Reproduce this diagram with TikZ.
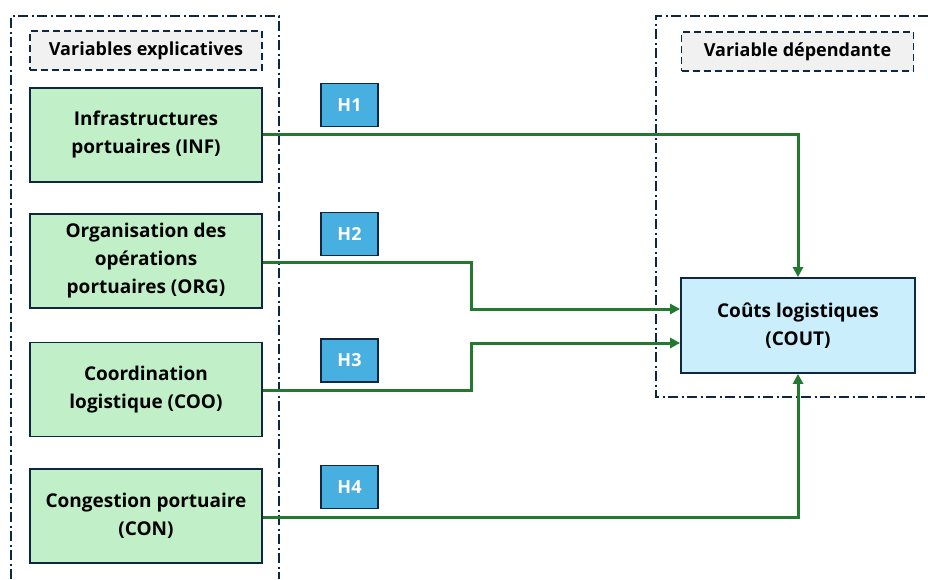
\documentclass[tikz,border=0pt]{standalone}
\usepackage{fontspec}
\setmainfont{Open Sans}
\usetikzlibrary{arrows.meta}
\definecolor{navy}{HTML}{0E2841}
\definecolor{boxgreen}{HTML}{C1F0C8}
\definecolor{boxblue}{HTML}{CAEEFB}
\definecolor{hblue}{HTML}{47B0E0}
\definecolor{linegreen}{HTML}{217A2E}
\definecolor{hdrgray}{HTML}{F1F1F1}
\begin{document}
\begin{tikzpicture}[x=1pt,y=-1pt,
  frame/.style={draw=navy,line width=2pt,dash pattern=on 10pt off 3.5pt on 2pt off 3.5pt},
  header/.style={draw=navy,line width=1.8pt,dash pattern=on 7pt off 4pt,fill=hdrgray,minimum width=232pt,minimum height=39pt,font=\bfseries\fontsize{18}{20}\selectfont,inner sep=0pt},
  varbox/.style={draw=navy,line width=1.8pt,fill=boxgreen,minimum width=232pt,minimum height=94pt,align=center,font=\bfseries\fontsize{19}{28}\selectfont,inner sep=0pt},
  depbox/.style={draw=navy,line width=1.8pt,fill=boxblue,minimum width=234pt,minimum height=95pt,align=center,font=\bfseries\fontsize{19}{28}\selectfont,inner sep=0pt},
  hyp/.style={draw=navy,line width=1.8pt,fill=hblue,minimum width=57pt,minimum height=43pt,text=white,font=\bfseries\fontsize{18}{20}\selectfont,inner sep=0pt},
  link/.style={draw=linegreen,line width=3pt,-{Triangle[length=10pt,width=10pt]}}
]
\useasboundingbox (0,0) rectangle (928,579);
% frames
\draw[frame] (11,579) -- (11,16) -- (279,16) -- (279,579);
\draw[frame] (928,16) -- (656,16) -- (656,397) -- (928,397);
% headers
\node[header] (hleft) at (146,50.5) {Variables explicatives};
\node[header] (hright) at (797.5,51.5) {Variable dépendante};
% variable boxes
\node[varbox] (inf) at (146,135) {Infrastructures\\portuaires (INF)};
\node[varbox] (org) at (146,261) {Organisation des\\opérations\\portuaires (ORG)};
\node[varbox] (coo) at (146,389.5) {Coordination\\logistique (COO)};
\node[varbox] (con) at (146,516) {Congestion portuaire\\(CON)};
\node[depbox] (cout) at (798,325.5) {Coûts logistiques\\(COUT)};
% hypothesis labels
\node[hyp] (h1) at (349.5,105) {H1};
\node[hyp] (h2) at (349.5,234) {H2};
\node[hyp] (h3) at (349.5,360.5) {H3};
\node[hyp] (h4) at (349.5,487) {H4};
% connectors
\coordinate (c1) at (798,134);
\coordinate (c2a) at (471,262);
\coordinate (c2b) at (471,309);
\coordinate (c3a) at (471,390);
\coordinate (c3b) at (471,343);
\coordinate (c4) at (798,517);
\draw[link] (inf.east |- c1) -- (c1) -- (cout.north);
\draw[link] (org.east |- c2a) -- (c2a) -- (c2b) -- (c2b -| cout.west);
\draw[link] (coo.east |- c3a) -- (c3a) -- (c3b) -- (c3b -| cout.west);
\draw[link] (con.east |- c4) -- (c4) -- (cout.south);
\end{tikzpicture}
\end{document}
